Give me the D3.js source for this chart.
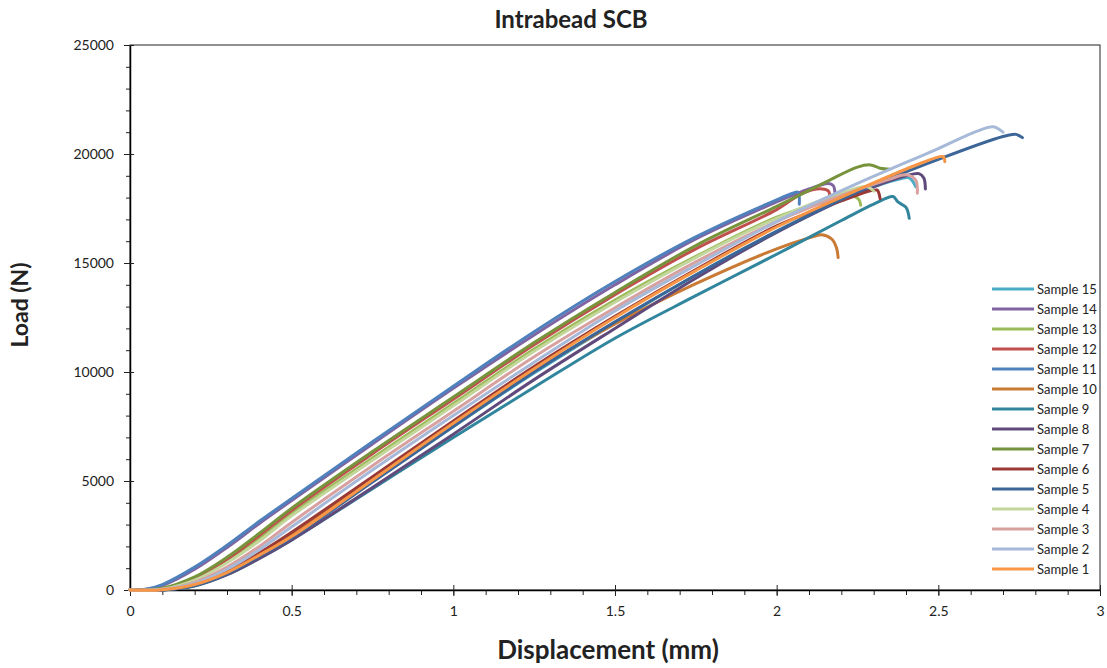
<!DOCTYPE html>
<html>
<head>
<meta charset="utf-8">
<script src="https://cdn.jsdelivr.net/npm/d3@7"></script>
<style>
  body { margin: 0; background: #fff; }
  text { font-family: Lato, "Open Sans", sans-serif; fill: #222; }
</style>
</head>
<body>
<div id="chart"></div>
<script>
// load (N) vs displacement (mm)
const sample1 = [[0,0],[0.1,10],[0.2,250],[0.3,800],[0.4,1600],[0.5,2450],[0.75,5050],[1.0,7650],[1.25,10150],[1.5,12500],[1.75,14650],[2.0,16650],[2.25,18350],[2.45,19600],[2.515,19880],[2.52,19650]]
const sample2 = [[0,0],[0.1,20],[0.2,300],[0.3,950],[0.4,1850],[0.5,2900],[0.75,5500],[1.0,8000],[1.25,10450],[1.5,12800],[1.75,14900],[2.0,16900],[2.25,18650],[2.5,20250],[2.62,21050],[2.67,21250],[2.7,21000]]
const sample3 = [[0,0],[0.1,30],[0.2,350],[0.3,1050],[0.4,2000],[0.5,3100],[0.75,5700],[1.0,8200],[1.25,10700],[1.5,12950],[1.75,15050],[2.0,16900],[2.2,18100],[2.35,18850],[2.4,19050],[2.43,18800],[2.435,18200]]
const sample4 = [[0,0],[0.1,40],[0.2,450],[0.3,1250],[0.4,2250],[0.5,3400],[0.75,5950],[1.0,8450],[1.25,10950],[1.5,13200],[1.75,15250],[2.0,17050],[2.2,18200],[2.28,18500],[2.3,18300]]
const sample5 = [[0,0],[0.1,0],[0.2,200],[0.3,750],[0.4,1550],[0.5,2400],[0.75,4950],[1.0,7500],[1.25,10000],[1.5,12300],[1.75,14450],[2.0,16450],[2.25,18250],[2.5,19750],[2.7,20800],[2.74,20900],[2.76,20750]]
const sample6 = [[0,0],[0.1,10],[0.2,250],[0.3,850],[0.4,1700],[0.5,2650],[0.75,5200],[1.0,7750],[1.25,10250],[1.5,12550],[1.75,14700],[2.0,16700],[2.2,17850],[2.31,18350],[2.315,18250],[2.32,17950]]
const sample7 = [[0,0],[0.1,80],[0.2,600],[0.3,1500],[0.4,2600],[0.5,3750],[0.75,6350],[1.0,8850],[1.25,11350],[1.5,13650],[1.75,15800],[2.0,17600],[2.15,18700],[2.25,19400],[2.29,19500],[2.32,19350],[2.35,19300]]
const sample8 = [[0,0],[0.1,0],[0.2,200],[0.3,700],[0.4,1450],[0.5,2300],[0.75,4700],[1.0,7150],[1.25,9650],[1.5,12000],[1.75,14300],[2.0,16400],[2.25,18200],[2.4,19000],[2.44,19100],[2.455,18900],[2.46,18400]]
const sample9 = [[0,0],[0.1,0],[0.2,180],[0.3,700],[0.4,1450],[0.5,2300],[0.75,4650],[1.0,7000],[1.25,9300],[1.5,11550],[1.75,13500],[2.0,15400],[2.2,16950],[2.3,17700],[2.36,18050],[2.375,17800],[2.4,17550],[2.41,17050]]
const sample10 = [[0,0],[0.1,10],[0.2,280],[0.3,850],[0.4,1650],[0.5,2550],[0.75,5100],[1.0,7650],[1.25,10050],[1.5,12200],[1.75,14050],[2.0,15650],[2.1,16150],[2.14,16300],[2.17,16100],[2.185,15700],[2.19,15250]]
const sample11 = [[0,0],[0.05,40],[0.1,250],[0.2,1050],[0.3,2050],[0.4,3150],[0.5,4200],[0.75,6800],[1.0,9350],[1.25,11850],[1.5,14150],[1.75,16200],[2.0,17900],[2.05,18200],[2.066,18250],[2.07,17700]]
const sample12 = [[0,0],[0.1,60],[0.2,550],[0.3,1400],[0.4,2500],[0.5,3650],[0.75,6250],[1.0,8750],[1.25,11250],[1.5,13550],[1.75,15650],[2.0,17450],[2.08,18200],[2.14,18400],[2.16,18300],[2.165,17950]]
const sample13 = [[0,0],[0.1,50],[0.2,500],[0.3,1300],[0.4,2350],[0.5,3500],[0.75,6050],[1.0,8550],[1.25,11050],[1.5,13300],[1.75,15300],[2.0,17100],[2.15,17800],[2.24,18050],[2.255,17900],[2.26,17650]]
const sample14 = [[0,0],[0.05,30],[0.1,200],[0.2,950],[0.3,1950],[0.4,3050],[0.5,4100],[0.75,6700],[1.0,9250],[1.25,11700],[1.5,14000],[1.75,16100],[2.0,17800],[2.1,18400],[2.16,18650],[2.175,18550],[2.18,18250]]
const sample15 = [[0,0],[0.1,10],[0.2,230],[0.3,800],[0.4,1600],[0.5,2500],[0.75,5000],[1.0,7500],[1.25,9950],[1.5,12250],[1.75,14450],[2.0,16450],[2.25,18200],[2.38,18850],[2.41,18900],[2.43,18500]]

const sampleNames = ["Sample 1","Sample 2","Sample 3","Sample 4","Sample 5","Sample 6","Sample 7","Sample 8","Sample 9","Sample 10","Sample 11","Sample 12","Sample 13","Sample 14","Sample 15"]
const sampleColors = ["#f79646","#a7b9d8","#d9a0a0","#c3d69b","#3c6598","#9a3a37","#77933c","#5f4a7b","#31859c","#c97a34","#4f81bd","#c0504d","#9bbb59","#8064a2","#4bacc6"]
const xTicks = [0, 0.5, 1, 1.5, 2, 2.5, 3]
const yTicks = [0, 5000, 10000, 15000, 20000, 25000]

const samples = [sample1, sample2, sample3, sample4, sample5, sample6, sample7, sample8,
  sample9, sample10, sample11, sample12, sample13, sample14, sample15]

const width = 1107
const height = 668
const plotLeft = 130, plotRight = 1100, plotTop = 45, plotBottom = 590

const svg = d3.select("#chart").append("svg")
  .attr("width", width)
  .attr("height", height)
  .attr("viewBox", [0, 0, width, height])

const x = d3.scaleLinear().domain([0, 3]).range([plotLeft, plotRight])
const y = d3.scaleLinear().domain([0, 25000]).range([plotBottom, plotTop])

// plot frame
svg.append("rect")
  .attr("x", plotLeft).attr("y", plotTop)
  .attr("width", plotRight - plotLeft).attr("height", plotBottom - plotTop)
  .attr("fill", "none").attr("stroke", "#222").attr("stroke-width", 1)

// minor ticks
svg.append("g")
  .attr("transform", `translate(0,${plotBottom})`)
  .call(d3.axisBottom(x).tickValues(d3.range(0, 31).map(i => i / 10)).tickSize(5).tickFormat(""))
  .call(g => g.select(".domain").remove())
svg.append("g")
  .attr("transform", `translate(${plotLeft},0)`)
  .call(d3.axisLeft(y).tickValues(d3.range(0, 26).map(i => i * 1000)).tickSize(4).tickFormat(""))
  .call(g => g.select(".domain").remove())

// major axes
const axisX = svg.append("g").classed("axis x", true)
  .attr("transform", `translate(0,${plotBottom})`)
  .call(d3.axisBottom(x).tickValues(xTicks).tickSizeInner(6).tickSizeOuter(0).tickPadding(10)
    .tickFormat(d => d3.format("")(d)))
axisX.selectAll(".tick line").attr("y1", -5)
axisX.select(".domain").attr("stroke-width", 1.5)

const axisY = svg.append("g").classed("axis y", true)
  .attr("transform", `translate(${plotLeft},0)`)
  .call(d3.axisLeft(y).tickValues(yTicks).tickSizeInner(6).tickSizeOuter(0).tickPadding(10)
    .tickFormat(d3.format("d")))
axisY.selectAll(".tick line").attr("x1", 4)
axisY.select(".domain").attr("stroke-width", 1.5)

svg.selectAll(".axis text")
  .style("font-family", "Lato, sans-serif")
  .style("font-size", "14px")
  .attr("fill", "#333")
svg.selectAll(".tick line").attr("stroke", "#222")

// curves
const line = d3.line()
  .x(d => x(d[0]))
  .y(d => y(d[1]))
  .curve(d3.curveCatmullRom.alpha(0.5))

const order = d3.range(samples.length).reverse()
svg.append("g").classed("curves", true)
  .selectAll("path")
  .data(order)
  .join("path")
  .attr("d", i => line(samples[i]))
  .attr("fill", "none")
  .attr("stroke", i => sampleColors[i])
  .attr("stroke-width", 3)
  .attr("stroke-linejoin", "round")
  .attr("stroke-linecap", "round")

// legend, Sample 15 on top
const legend = svg.append("g").classed("legend", true)
  .attr("transform", "translate(992,289)")
const rows = legend.selectAll("g")
  .data(order)
  .join("g")
  .attr("transform", (d, k) => `translate(0,${k * 20})`)
rows.append("line")
  .attr("x1", 0).attr("x2", 42)
  .attr("stroke", i => sampleColors[i])
  .attr("stroke-width", 3)
rows.append("text")
  .attr("x", 45).attr("dy", "0.35em")
  .style("font-size", "13px")
  .text(i => sampleNames[i])

// titles
svg.append("text")
  .attr("x", 571).attr("y", 28)
  .attr("text-anchor", "middle")
  .style("font-size", "24px").style("font-weight", "bold")
  .text("Intrabead SCB")

svg.append("text")
  .attr("x", 608).attr("y", 659)
  .attr("text-anchor", "middle")
  .style("font-size", "26px").style("font-weight", "bold")
  .text("Displacement (mm)")

svg.append("text")
  .attr("transform", "translate(28,305) rotate(-90)")
  .attr("text-anchor", "middle")
  .style("font-size", "23px").style("font-weight", "bold")
  .text("Load (N)")
</script>
</body>
</html>
